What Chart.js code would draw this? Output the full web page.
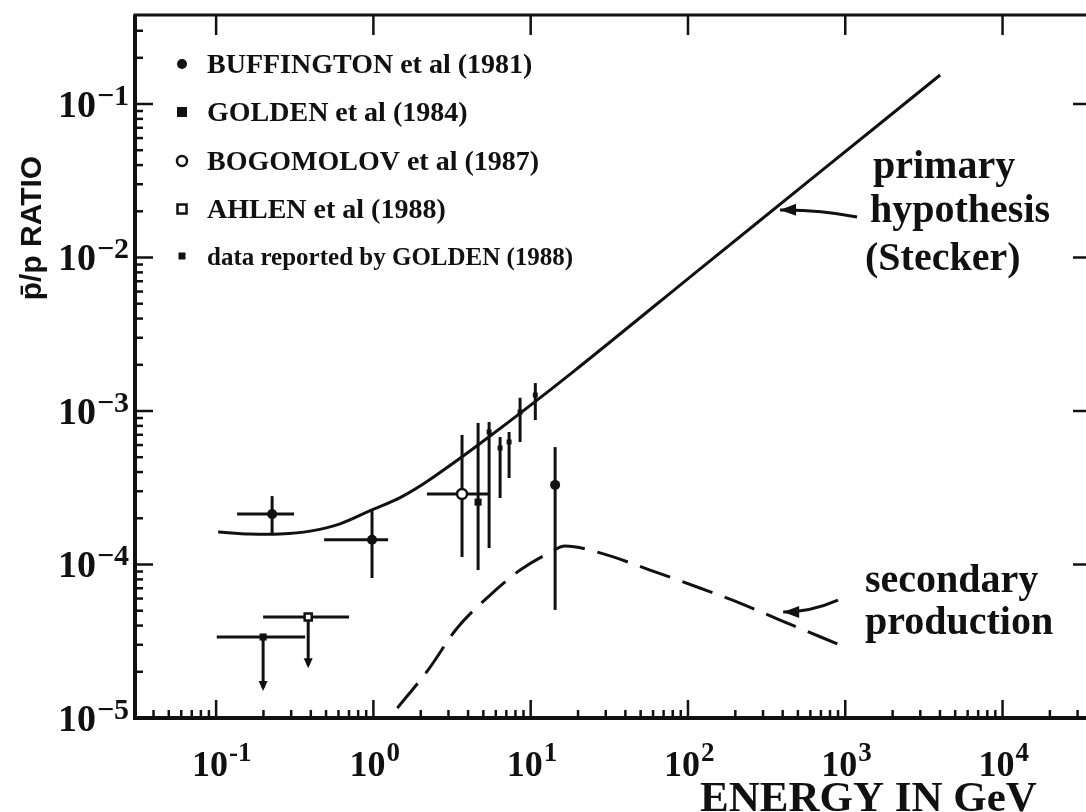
<!DOCTYPE html>
<html>
<head>
<meta charset="utf-8">
<script src="https://cdn.jsdelivr.net/npm/chart.js@4.4.1/dist/chart.umd.min.js"></script>
<style>
  html, body { margin: 0; padding: 0; background: #fff; overflow: hidden; }
  #wrap { width: 1086px; height: 812px; overflow: hidden; }
</style>
</head>
<body>
<div id="wrap"><canvas id="ratioChart" width="1100" height="812"></canvas></div>
<script>
// axis ranges (energy in GeV, antiproton/proton ratio)
const energyRange = [0.0305, 35975];
const ratioRange = [1e-5, 0.38];
const energyDecades = [-1, 0, 1, 2, 3, 4];
const ratioDecades = [-5, -4, -3, -2, -1];

// primary hypothesis (Stecker)
const primaryE = [0.103, 0.164, 0.255, 0.396, 0.614, 0.98, 1.48, 2.29, 5.13, 18.6, 119, 692, 4010];
const primaryR = [1.63e-4, 1.58e-4, 1.58e-4, 1.65e-4, 1.84e-4, 2.27e-4, 2.73e-4, 3.58e-4, 6.49e-4, 1.80e-3, 8.41e-3, 3.61e-2, 0.1545];

// secondary production
const secondaryE = [1.42, 2.23, 3.41, 5.52, 8.57, 13.3, 16.5, 27.6, 57.4, 119, 214, 385, 927];
const secondaryR = [1.16e-5, 2.06e-5, 3.86e-5, 6.32e-5, 9.2e-5, 1.20e-4, 1.32e-4, 1.19e-4, 9.2e-5, 7.03e-5, 5.61e-5, 4.34e-5, 2.99e-5];

// BUFFINGTON et al (1981)
const buffE = [0.227, 0.98, 14.3];
const buffElo = [0.136, 0.486, null];
const buffEhi = [0.313, 1.24, null];
const buffR = [2.13e-4, 1.45e-4, 3.30e-4];
const buffRlo = [1.60e-4, 8.17e-5, 5.06e-5];
const buffRhi = [2.79e-4, 2.27e-4, 5.82e-4];

// GOLDEN et al (1984)
const golden84E = [0.199, 4.63];
const golden84Elo = [0.101, null];
const golden84Ehi = [0.368, null];
const golden84R = [3.37e-5, 2.55e-4];
const golden84Rlo = [1.57e-5, 9.2e-5];
const golden84Rhi = [null, 8.36e-4];
const golden84Limit = [true, false];

// BOGOMOLOV et al (1987)
const bogoE = [3.66];
const bogoElo = [2.19];
const bogoEhi = [5.52];
const bogoR = [2.88e-4];
const bogoRlo = [1.12e-4];
const bogoRhi = [6.98e-4];

// AHLEN et al (1988)
const ahlenE = [0.385];
const ahlenElo = [0.199];
const ahlenEhi = [0.70];
const ahlenR = [4.55e-5];
const ahlenRlo = [2.21e-5];
const ahlenLimit = [true];

// data reported by GOLDEN (1988)
const golden88E = [5.44, 6.39, 7.29, 8.56, 10.7];
const golden88R = [7.30e-4, 5.74e-4, 6.28e-4, 9.84e-4, 1.27e-3];
const golden88Rlo = [1.28e-4, 2.71e-4, 3.66e-4, 6.28e-4, 8.73e-4];
const golden88Rhi = [8.47e-4, 6.77e-4, 7.30e-4, 1.22e-3, 1.52e-3];

// annotation arrows, tail -> head
const primaryArrowE = [1189, 385];
const primaryArrowR = [0.01837, 0.0204];
const secondaryArrowE = [899, 403];
const secondaryArrowR = [5.87e-5, 4.91e-5];

const INK = "#111";
const SERIF = "'Liberation Serif', 'Times New Roman', serif";
const SANS = "'Liberation Sans', Arial, sans-serif";

const toPoints = (xs, ys) => xs.map((x, i) => ({ x: x, y: ys[i] }));
const nums = (arr, n) => arr || new Array(n).fill(null);

function series(label, style, E, Elo, Ehi, R, Rlo, Rhi, limit) {
  const n = E.length;
  return {
    label, style,
    rows: E.map((e, i) => ({
      e, r: R[i],
      elo: nums(Elo, n)[i], ehi: nums(Ehi, n)[i],
      rlo: nums(Rlo, n)[i], rhi: nums(Rhi, n)[i],
      limit: limit ? limit[i] : false
    }))
  };
}

const measurements = [
  series("BUFFINGTON et al (1981)", "dot", buffE, buffElo, buffEhi, buffR, buffRlo, buffRhi),
  series("GOLDEN et al (1984)", "square", golden84E, golden84Elo, golden84Ehi, golden84R, golden84Rlo, golden84Rhi, golden84Limit),
  series("BOGOMOLOV et al (1987)", "ring", bogoE, bogoElo, bogoEhi, bogoR, bogoRlo, bogoRhi),
  series("AHLEN et al (1988)", "box", ahlenE, ahlenElo, ahlenEhi, ahlenR, ahlenRlo, null, ahlenLimit),
  series("data reported by GOLDEN (1988)", "small", golden88E, null, null, golden88R, golden88Rlo, golden88Rhi)
];

function drawMarker(ctx, style, x, y) {
  ctx.save();
  ctx.lineWidth = 2.5;
  ctx.strokeStyle = INK;
  ctx.fillStyle = INK;
  if (style === "dot") {
    ctx.beginPath(); ctx.arc(x, y, 5, 0, Math.PI * 2); ctx.fill();
  } else if (style === "square") {
    ctx.fillRect(x - 5, y - 5, 10, 10);
  } else if (style === "ring") {
    ctx.fillStyle = "#fff";
    ctx.beginPath(); ctx.arc(x, y, 5, 0, Math.PI * 2); ctx.fill(); ctx.stroke();
  } else if (style === "box") {
    ctx.fillStyle = "#fff";
    ctx.fillRect(x - 4.5, y - 4.5, 9, 9); ctx.strokeRect(x - 4.5, y - 4.5, 9, 9);
  } else {
    ctx.fillRect(x - 3.5, y - 3.5, 7, 7);
  }
  ctx.restore();
}

function arrowHead(ctx, x0, y0, x1, y1, len, half) {
  const a = Math.atan2(y1 - y0, x1 - x0);
  ctx.beginPath();
  ctx.moveTo(x1, y1);
  ctx.lineTo(x1 - len * Math.cos(a) + half * Math.sin(a), y1 - len * Math.sin(a) - half * Math.cos(a));
  ctx.lineTo(x1 - len * Math.cos(a) - half * Math.sin(a), y1 - len * Math.sin(a) + half * Math.cos(a));
  ctx.closePath();
  ctx.fill();
}

// error bars under the markers
const errorBars = {
  id: "errorBars",
  beforeDatasetsDraw(chart) {
    const { ctx, scales: { x, y } } = chart;
    ctx.save();
    ctx.strokeStyle = INK;
    ctx.fillStyle = INK;
    ctx.lineWidth = 3;
    measurements.forEach((s) => {
      s.rows.forEach((p) => {
        const px = x.getPixelForValue(p.e), py = y.getPixelForValue(p.r);
        if (p.elo !== null) {
          ctx.beginPath();
          ctx.moveTo(x.getPixelForValue(p.elo), py);
          ctx.lineTo(x.getPixelForValue(p.ehi), py);
          ctx.stroke();
        }
        const top = p.rhi !== null ? y.getPixelForValue(p.rhi) : py;
        const bottom = p.rlo !== null ? y.getPixelForValue(p.rlo) : py;
        ctx.beginPath();
        ctx.moveTo(px, top);
        ctx.lineTo(px, bottom);
        ctx.stroke();
        if (p.limit) arrowHead(ctx, px, py, px, bottom + 3, 10, 4.5);
      });
    });
    ctx.restore();
  }
};

function drawPower(ctx, exp, x, baseline, align, baseFont, supFont, raise) {
  ctx.font = baseFont;
  const wb = ctx.measureText("10").width;
  ctx.font = supFont;
  const ws = ctx.measureText(exp).width;
  const left = align === "right" ? x - wb - ws - 1 : x - wb / 2;
  ctx.font = baseFont;
  ctx.fillText("10", left, baseline);
  ctx.font = supFont;
  ctx.fillText(exp, left + wb + 1, baseline - raise);
}

// frame, ticks, labels, legend and annotations
const axesAndText = {
  id: "axesAndText",
  afterDraw(chart) {
    const { ctx, chartArea: a, scales: { x, y } } = chart;
    ctx.save();
    ctx.strokeStyle = INK;
    ctx.fillStyle = INK;
    ctx.textBaseline = "alphabetic";
    ctx.textAlign = "left";

    ctx.lineWidth = 3;
    ctx.strokeRect(a.left, a.top, a.right - a.left, a.bottom - a.top);
    ctx.lineWidth = 4;
    ctx.beginPath(); ctx.moveTo(a.left, a.top); ctx.lineTo(a.left, a.bottom + 2); ctx.stroke();
    ctx.beginPath(); ctx.moveTo(a.left, a.bottom); ctx.lineTo(a.right, a.bottom); ctx.stroke();

    ctx.lineWidth = 2.5;
    const tick = (x0, y0, x1, y1) => { ctx.beginPath(); ctx.moveTo(x0, y0); ctx.lineTo(x1, y1); ctx.stroke(); };

    // ratio axis ticks
    for (let n = -6; n <= 0; n++) {
      for (let k = 1; k <= 9; k++) {
        const v = k * Math.pow(10, n);
        if (v < ratioRange[0] || v > ratioRange[1]) continue;
        const py = y.getPixelForValue(v);
        if (k === 1) {
          tick(a.left, py, a.left + 18, py);
          tick(a.right, py, a.right - 17, py);
        } else {
          tick(a.left, py, a.left + 8, py);
        }
      }
    }
    // energy axis ticks
    for (let n = -2; n <= 5; n++) {
      for (let k = 1; k <= 9; k++) {
        const v = k * Math.pow(10, n);
        if (v < energyRange[0] || v > energyRange[1]) continue;
        const px = x.getPixelForValue(v);
        if (k === 1) {
          tick(px, a.bottom, px, a.bottom - 18);
          tick(px, a.top, px, a.top + 20);
        } else {
          tick(px, a.bottom, px, a.bottom - 8);
        }
      }
    }

    // tick labels
    ratioDecades.forEach((n) => {
      const py = y.getPixelForValue(Math.pow(10, n));
      drawPower(ctx, "\u2212" + Math.abs(n), 129, py + 13, "right",
        "bold 38px " + SERIF, "bold 30px " + SERIF, 12);
    });
    energyDecades.forEach((n) => {
      const px = x.getPixelForValue(Math.pow(10, n));
      drawPower(ctx, n < 0 ? "-" + Math.abs(n) : String(n), px - 6, 776, "center",
        "bold 36px " + SERIF, "bold 27px " + SERIF, 15);
    });

    // axis titles
    ctx.font = "bold 43px " + SERIF;
    ctx.fillText("ENERGY IN GeV", 700, 811);
    ctx.save();
    ctx.translate(41, 228);
    ctx.rotate(-Math.PI / 2);
    ctx.textAlign = "center";
    ctx.font = "bold 30px " + SANS;
    ctx.fillText("p\u0304/p RATIO", 0, 0);
    ctx.restore();

    // legend
    const rowY = [64, 112, 161, 209, 256];
    measurements.forEach((s, i) => {
      drawMarker(ctx, s.style, 182, rowY[i]);
      ctx.font = (i === 4 ? "bold 25px " : "bold 28px ") + SERIF;
      ctx.fillText(s.label, 207, rowY[i] + 9);
    });

    // curve annotations
    ctx.font = "bold 40px " + SERIF;
    ctx.fillText("primary", 873, 178);
    ctx.fillText("hypothesis", 870, 222);
    ctx.fillText("(Stecker)", 865, 270);
    ctx.fillText("secondary", 865, 592);
    ctx.fillText("production", 865, 634);

    ctx.lineWidth = 3;
    [[primaryArrowE, primaryArrowR, -4], [secondaryArrowE, secondaryArrowR, 6]].forEach(([es, rs, bend]) => {
      const x0 = x.getPixelForValue(es[0]), y0 = y.getPixelForValue(rs[0]);
      const x1 = x.getPixelForValue(es[1]), y1 = y.getPixelForValue(rs[1]);
      const cx = (x0 + x1) / 2, cy = (y0 + y1) / 2 + bend;
      ctx.beginPath();
      ctx.moveTo(x0, y0);
      ctx.quadraticCurveTo(cx, cy, x1, y1);
      ctx.stroke();
      arrowHead(ctx, cx, cy, x1, y1, 16, 6);
    });

    ctx.restore();
  }
};

const markerDatasets = measurements.map((s) => ({
  type: "scatter",
  label: s.label,
  data: s.rows.map((p) => ({ x: p.e, y: p.r })),
  pointStyle: s.style === "ring" || s.style === "dot" ? "circle" : "rect",
  pointRadius: s.style === "small" ? 3.5 : 5,
  pointBackgroundColor: s.style === "ring" || s.style === "box" ? "#fff" : INK,
  pointBorderColor: INK,
  pointBorderWidth: s.style === "ring" || s.style === "box" ? 2.5 : 0
}));

new Chart(document.getElementById("ratioChart").getContext("2d"), {
  type: "scatter",
  data: {
    datasets: [
      {
        type: "line",
        label: "primary hypothesis (Stecker)",
        data: toPoints(primaryE, primaryR),
        borderColor: INK,
        borderWidth: 3,
        pointRadius: 0,
        tension: 0.3,
        fill: false
      },
      {
        type: "line",
        label: "secondary production",
        data: toPoints(secondaryE, secondaryR),
        borderColor: INK,
        borderWidth: 3,
        borderDash: [32, 13],
        pointRadius: 0,
        cubicInterpolationMode: "monotone",
        fill: false
      },
      ...markerDatasets
    ]
  },
  options: {
    responsive: false,
    devicePixelRatio: 1,
    animation: false,
    layout: { padding: { left: 135, top: 15, right: 10, bottom: 94 } },
    plugins: { legend: { display: false }, tooltip: { enabled: false } },
    scales: {
      x: { type: "logarithmic", min: energyRange[0], max: energyRange[1], display: false },
      y: { type: "logarithmic", min: ratioRange[0], max: ratioRange[1], display: false }
    }
  },
  plugins: [errorBars, axesAndText]
});
</script>
</body>
</html>
